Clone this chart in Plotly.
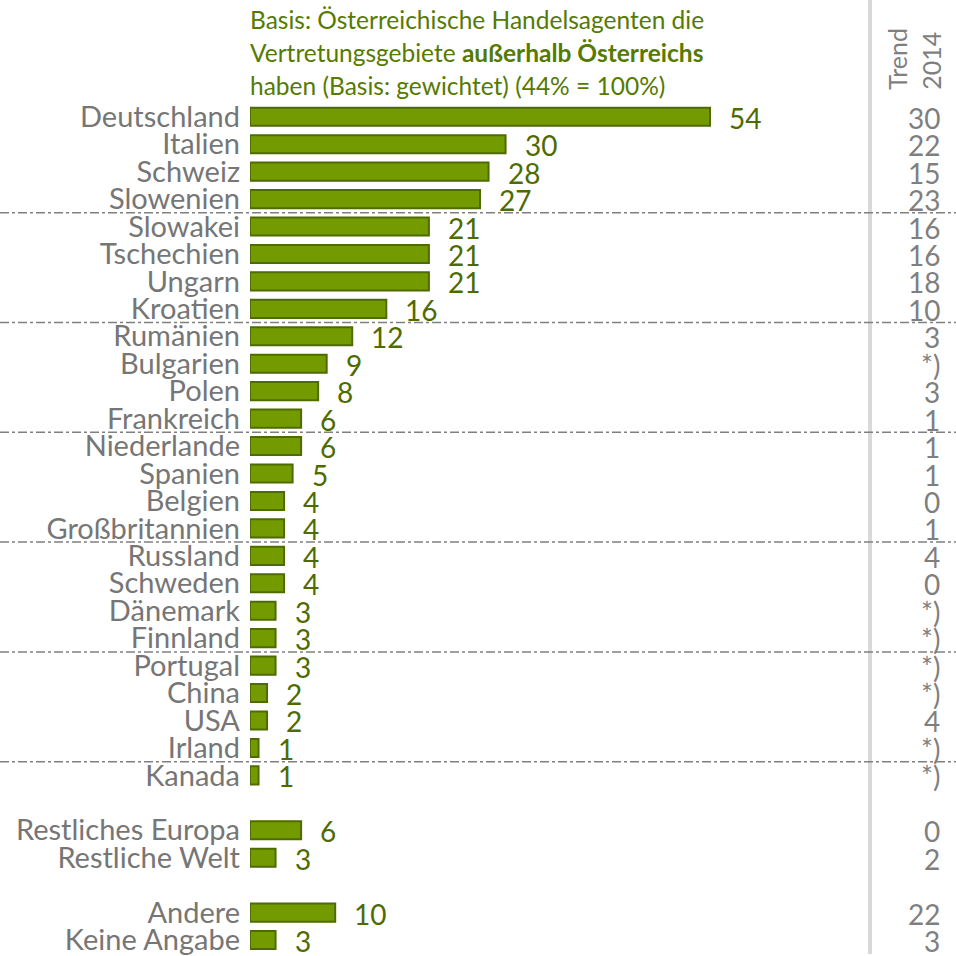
import plotly.graph_objects as go

# ---- data ----
categories = ["Deutschland", "Italien", "Schweiz", "Slowenien", "Slowakei", "Tschechien",
              "Ungarn", "Kroatien", "Rumänien", "Bulgarien", "Polen", "Frankreich",
              "Niederlande", "Spanien", "Belgien", "Großbritannien", "Russland", "Schweden",
              "Dänemark", "Finnland", "Portugal", "China", "USA", "Irland", "Kanada",
              " ", "Restliches Europa", "Restliche Welt", "  ", "Andere", "Keine Angabe"]
values = [54, 30, 28, 27, 21, 21, 21, 16, 12, 9, 8, 6, 6, 5, 4, 4, 4, 4, 3, 3, 3, 2, 2, 1, 1,
          None, 6, 3, None, 10, 3]
trend_2014 = ["30", "22", "15", "23", "16", "16", "18", "10", "3", "*)", "3", "1", "1", "1", "0",
              "1", "4", "0", "*)", "*)", "*)", "*)", "4", "*)", "*)",
              "", "0", "2", "", "22", "3"]
separator_after = [3, 7, 11, 15, 19, 23]  # dash-dot lines after these rows

title_lines = ["Basis: Österreichische Handelsagenten die",
               "Vertretungsgebiete <b>außerhalb Österreichs</b>",
               "haben (Basis: gewichtet) (44% = 100%)"]

W = H = 956
L = 250
FONT = "Lato"
BAR_FILL = "#739b00"
BAR_LINE = "#4e6b00"
VAL_COL = "#4e6b00"
LAB_COL = "#767676"
TR_COL = "#7f7f7f"

row_px = 27.5
first_row_px = 117
y_top = -first_row_px / row_px
y_bot = (H - first_row_px) / row_px
x_max = (W - L) / 460 * 54

bar_cats = [c for c, v in zip(categories, values) if v is not None]
bar_vals = [v for v in values if v is not None]
label_cats = [c for c in categories if c.strip()]

fig = go.Figure()
fig.add_trace(go.Bar(
    y=bar_cats, x=bar_vals, orientation="h", width=0.66,
    marker=dict(color=BAR_FILL, line=dict(color=BAR_LINE, width=2)),
    hoverinfo="skip",
))

ann = []
for c, v in zip(bar_cats, bar_vals):
    ann.append(dict(x=v, y=c, xref="x", yref="y", text=str(v), showarrow=False,
                    xanchor="left", xshift=17, yshift=-1,
                    font=dict(family=FONT, size=28, color=VAL_COL)))
for c, t in zip(categories, trend_2014):
    if t:
        ann.append(dict(x=(942 - L) / (W - L), y=c, xref="paper", yref="y", text=t,
                        showarrow=False, xanchor="right", yshift=-1,
                        font=dict(family=FONT, size=28, color=TR_COL)))

title_y_px = [20, 53, 86]
for line, ypx in zip(title_lines, title_y_px):
    ann.append(dict(x=0, y=1 - ypx / H, xref="paper", yref="paper", text=line,
                    showarrow=False, xanchor="left", yanchor="middle", xshift=-2,
                    font=dict(family=FONT, size=24.5, color="#557a00")))

for txt, xpx in [("Trend", 897), ("2014", 931)]:
    ann.append(dict(x=(xpx - L) / (W - L), y=1 - 92 / H, xref="paper", yref="paper",
                    text=txt, textangle=-90, showarrow=False, xanchor="center",
                    yanchor="bottom", font=dict(family=FONT, size=25, color=TR_COL)))

shapes = [dict(type="line", xref="paper", yref="paper",
               x0=(870 - L) / (W - L), x1=(870 - L) / (W - L), y0=0, y1=1,
               line=dict(color="#d9d9d9", width=4), layer="below")]
for r in separator_after:
    shapes.append(dict(type="line", xref="paper", yref="y", x0=-L / (W - L), x1=1,
                       y0=r + 0.5, y1=r + 0.5,
                       line=dict(color="#808080", width=1.5, dash="dashdot"), layer="below"))

fig.update_layout(
    width=W, height=H,
    margin=dict(l=L, r=0, t=0, b=0),
    paper_bgcolor="white", plot_bgcolor="white",
    showlegend=False,
    xaxis=dict(range=[0, x_max], visible=False, fixedrange=True),
    yaxis=dict(type="category", categoryorder="array", categoryarray=categories,
               range=[y_bot, y_top], showgrid=False, zeroline=False, showline=False,
               tickmode="array", tickvals=label_cats, ticktext=label_cats,
               ticks="", ticklabelstandoff=9, fixedrange=True,
               tickfont=dict(family=FONT, size=29, color=LAB_COL)),
    annotations=ann, shapes=shapes,
)

fig.write_html("out.html", config={"displayModeBar": False},
               post_script="document.body.style.margin='0';document.body.style.overflow='hidden';")
